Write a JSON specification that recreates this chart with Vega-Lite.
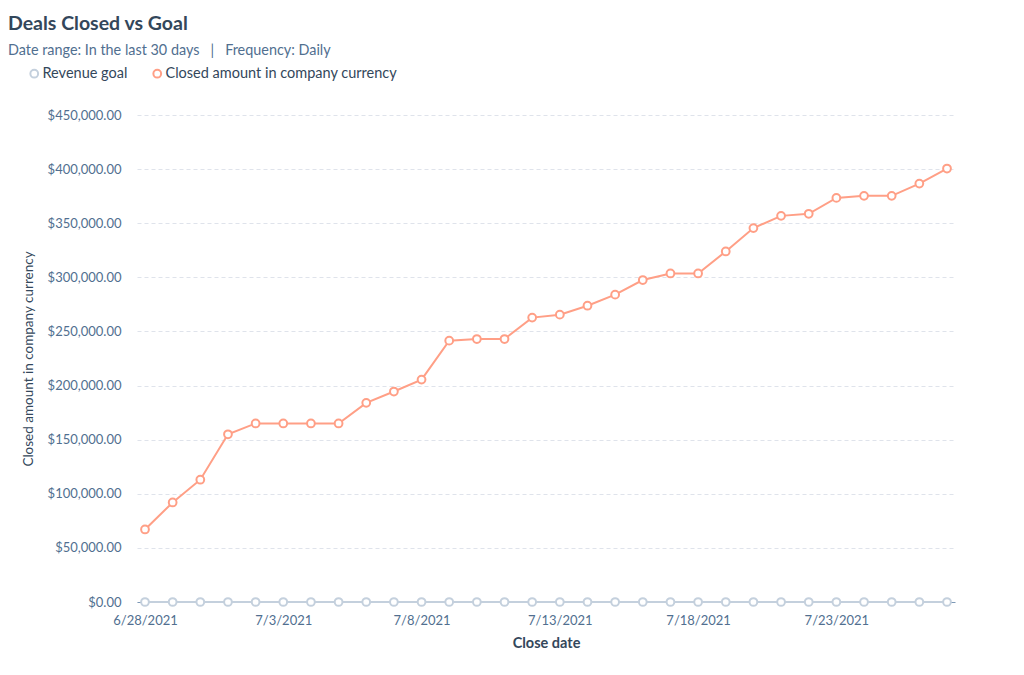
{
  "$schema": "https://vega.github.io/schema/vega-lite/v6.json",
  "autosize": "none",
  "width": 818,
  "height": 487,
  "padding": {"left": 137, "top": 115, "right": 69, "bottom": 73},
  "background": "white",
  "config": {
    "font": "Lato",
    "view": {"stroke": null},
    "axis": {"labelColor": "#516f90", "titleColor": "#33475b", "labelFont": "Lato", "titleFont": "Lato"}
  },
  "title": {
    "text": "Deals Closed vs Goal",
    "subtitle": "Date range: In the last 30 days\u00a0\u00a0\u00a0|\u00a0\u00a0\u00a0Frequency: Daily",
    "anchor": "start",
    "frame": "group",
    "dx": -129,
    "offset": 8,
    "fontSize": 19.5,
    "fontWeight": "bold",
    "color": "#33475b",
    "subtitleFontSize": 14.4,
    "subtitleColor": "#516f90",
    "subtitlePadding": 9
  },
  "data": {
    "values": [
      {"date": "6/28/2021", "series": "Closed amount in company currency", "amount": 67000},
      {"date": "6/29/2021", "series": "Closed amount in company currency", "amount": 92000},
      {"date": "6/30/2021", "series": "Closed amount in company currency", "amount": 113000},
      {"date": "7/1/2021", "series": "Closed amount in company currency", "amount": 155000},
      {"date": "7/2/2021", "series": "Closed amount in company currency", "amount": 165000},
      {"date": "7/3/2021", "series": "Closed amount in company currency", "amount": 165000},
      {"date": "7/4/2021", "series": "Closed amount in company currency", "amount": 165000},
      {"date": "7/5/2021", "series": "Closed amount in company currency", "amount": 165000},
      {"date": "7/6/2021", "series": "Closed amount in company currency", "amount": 184000},
      {"date": "7/7/2021", "series": "Closed amount in company currency", "amount": 194500},
      {"date": "7/8/2021", "series": "Closed amount in company currency", "amount": 205500},
      {"date": "7/9/2021", "series": "Closed amount in company currency", "amount": 241500},
      {"date": "7/10/2021", "series": "Closed amount in company currency", "amount": 243000},
      {"date": "7/11/2021", "series": "Closed amount in company currency", "amount": 243000},
      {"date": "7/12/2021", "series": "Closed amount in company currency", "amount": 262800},
      {"date": "7/13/2021", "series": "Closed amount in company currency", "amount": 265500},
      {"date": "7/14/2021", "series": "Closed amount in company currency", "amount": 273800},
      {"date": "7/15/2021", "series": "Closed amount in company currency", "amount": 284000},
      {"date": "7/16/2021", "series": "Closed amount in company currency", "amount": 297500},
      {"date": "7/17/2021", "series": "Closed amount in company currency", "amount": 303600},
      {"date": "7/18/2021", "series": "Closed amount in company currency", "amount": 303600},
      {"date": "7/19/2021", "series": "Closed amount in company currency", "amount": 323900},
      {"date": "7/20/2021", "series": "Closed amount in company currency", "amount": 345500},
      {"date": "7/21/2021", "series": "Closed amount in company currency", "amount": 356800},
      {"date": "7/22/2021", "series": "Closed amount in company currency", "amount": 358700},
      {"date": "7/23/2021", "series": "Closed amount in company currency", "amount": 373400},
      {"date": "7/24/2021", "series": "Closed amount in company currency", "amount": 375300},
      {"date": "7/25/2021", "series": "Closed amount in company currency", "amount": 375300},
      {"date": "7/26/2021", "series": "Closed amount in company currency", "amount": 386600},
      {"date": "7/27/2021", "series": "Closed amount in company currency", "amount": 400500},
      {"date": "6/28/2021", "series": "Revenue goal", "amount": 0},
      {"date": "6/29/2021", "series": "Revenue goal", "amount": 0},
      {"date": "6/30/2021", "series": "Revenue goal", "amount": 0},
      {"date": "7/1/2021", "series": "Revenue goal", "amount": 0},
      {"date": "7/2/2021", "series": "Revenue goal", "amount": 0},
      {"date": "7/3/2021", "series": "Revenue goal", "amount": 0},
      {"date": "7/4/2021", "series": "Revenue goal", "amount": 0},
      {"date": "7/5/2021", "series": "Revenue goal", "amount": 0},
      {"date": "7/6/2021", "series": "Revenue goal", "amount": 0},
      {"date": "7/7/2021", "series": "Revenue goal", "amount": 0},
      {"date": "7/8/2021", "series": "Revenue goal", "amount": 0},
      {"date": "7/9/2021", "series": "Revenue goal", "amount": 0},
      {"date": "7/10/2021", "series": "Revenue goal", "amount": 0},
      {"date": "7/11/2021", "series": "Revenue goal", "amount": 0},
      {"date": "7/12/2021", "series": "Revenue goal", "amount": 0},
      {"date": "7/13/2021", "series": "Revenue goal", "amount": 0},
      {"date": "7/14/2021", "series": "Revenue goal", "amount": 0},
      {"date": "7/15/2021", "series": "Revenue goal", "amount": 0},
      {"date": "7/16/2021", "series": "Revenue goal", "amount": 0},
      {"date": "7/17/2021", "series": "Revenue goal", "amount": 0},
      {"date": "7/18/2021", "series": "Revenue goal", "amount": 0},
      {"date": "7/19/2021", "series": "Revenue goal", "amount": 0},
      {"date": "7/20/2021", "series": "Revenue goal", "amount": 0},
      {"date": "7/21/2021", "series": "Revenue goal", "amount": 0},
      {"date": "7/22/2021", "series": "Revenue goal", "amount": 0},
      {"date": "7/23/2021", "series": "Revenue goal", "amount": 0},
      {"date": "7/24/2021", "series": "Revenue goal", "amount": 0},
      {"date": "7/25/2021", "series": "Revenue goal", "amount": 0},
      {"date": "7/26/2021", "series": "Revenue goal", "amount": 0},
      {"date": "7/27/2021", "series": "Revenue goal", "amount": 0}
    ],
    "format": {"parse": {"date": "date"}}
  },
  "mark": {
    "type": "line",
    "strokeWidth": 2,
    "point": {"filled": false, "fill": "white", "size": 60, "strokeWidth": 2, "opacity": 1}
  },
  "encoding": {
    "x": {
      "field": "date",
      "type": "temporal",
      "title": "Close date",
      "scale": {"padding": 8},
      "axis": {
        "values": [
          {"year": 2021, "month": 6, "date": 28},
          {"year": 2021, "month": 7, "date": 3},
          {"year": 2021, "month": 7, "date": 8},
          {"year": 2021, "month": 7, "date": 13},
          {"year": 2021, "month": 7, "date": 18},
          {"year": 2021, "month": 7, "date": 23}
        ],
        "format": "%-m/%-d/%Y",
        "grid": false,
        "ticks": false,
        "domain": true,
        "domainColor": "#7c98b6",
        "labelFontSize": 13,
        "labelPadding": 12,
        "titleFontSize": 14.5,
        "titleFontWeight": "bold",
        "titlePadding": 9,
        "labelFlush": false
      }
    },
    "y": {
      "field": "amount",
      "type": "quantitative",
      "title": "Closed amount in company currency",
      "scale": {"domain": [0, 450000]},
      "axis": {
        "values": [0, 50000, 100000, 150000, 200000, 250000, 300000, 350000, 400000, 450000],
        "format": "$,.2f",
        "domain": false,
        "ticks": false,
        "gridColor": "#dfe3eb",
        "gridDash": [4, 3],
        "labelFontSize": 13,
        "labelPadding": 16,
        "titleFontSize": 13.5,
        "titleFontWeight": "normal",
        "titlePadding": 12
      }
    },
    "color": {
      "field": "series",
      "type": "nominal",
      "sort": ["Revenue goal", "Closed amount in company currency"],
      "scale": {"domain": ["Revenue goal", "Closed amount in company currency"], "range": ["#c4d0dd", "#ff9f86"]},
      "legend": {
        "title": null,
        "orient": "none",
        "direction": "horizontal",
        "legendX": -110,
        "legendY": -49,
        "symbolType": "circle",
        "symbolFillColor": "white",
        "symbolStrokeWidth": 2,
        "symbolSize": 60,
        "labelFontSize": 14.5,
        "labelLimit": 400,
        "labelColor": "#33475b",
        "columnPadding": 21,
        "labelOffset": 1
      }
    },
    "order": {"field": "date", "type": "temporal"}
  }
}
